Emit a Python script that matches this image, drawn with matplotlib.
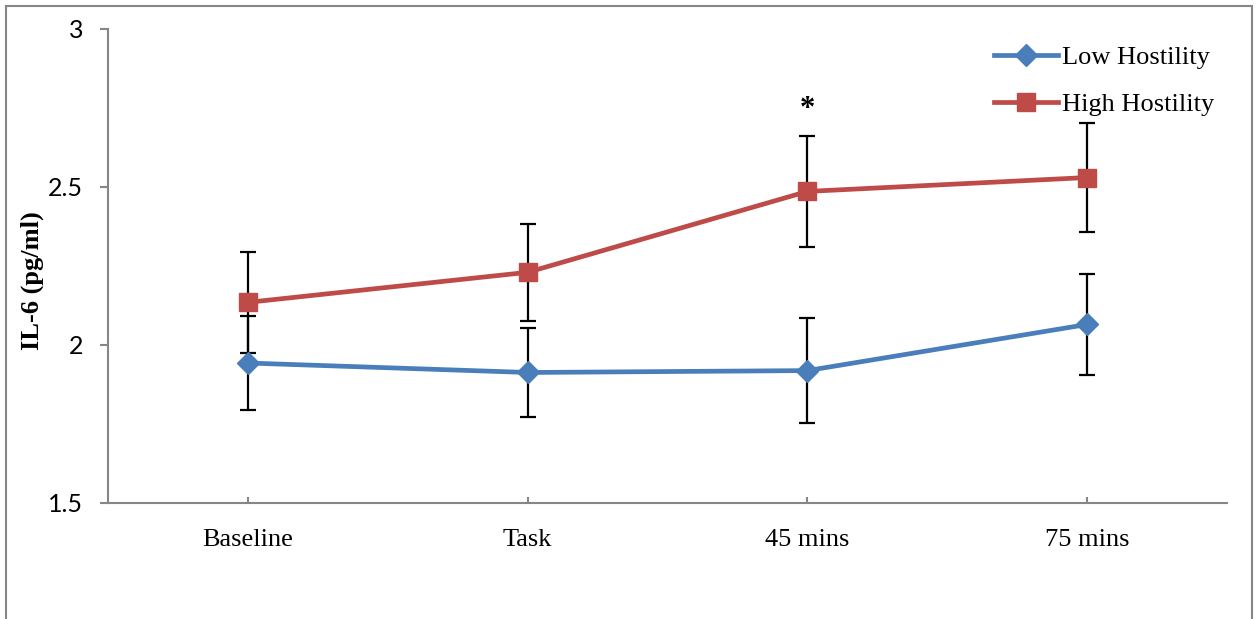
import matplotlib
matplotlib.use("Agg")
import matplotlib.pyplot as plt
from matplotlib.patches import Rectangle

# values
categories = ["Baseline", "Task", "45 mins", "75 mins"]
low_mean = [1.943, 1.913, 1.919, 2.065]
low_err = [0.148, 0.142, 0.165, 0.160]
high_mean = [2.135, 2.230, 2.486, 2.530]
high_err = [0.160, 0.153, 0.175, 0.172]
yticks = [1.5, 2.0, 2.5, 3.0]
ytick_labels = ["1.5", "2", "2.5", "3"]
star_index = 2

BLUE = "#4A7EBB"
RED = "#BE4B48"
AXIS = "#868686"
SERIF = ["Liberation Serif", "DejaVu Serif"]

W, H = 1260, 619
fig = plt.figure(figsize=(W / 100, H / 100), dpi=100)

# outer chart border (bottom edge falls outside the image)
fig.patches.append(Rectangle((6 / W, -0.05), (1252 - 6) / W, 1.05 - 6 / H,
                             transform=fig.transFigure, fill=False,
                             edgecolor=AXIS, linewidth=1.5))

ax = fig.add_axes([108 / W, 1 - 503 / H, (1227 - 108) / W, (503 - 29) / H])
x = list(range(len(categories)))

for mean, err in ((low_mean, low_err), (high_mean, high_err)):
    ax.errorbar(x, mean, yerr=err, fmt="none", ecolor="black",
                elinewidth=1.6, capsize=6, capthick=1.6, zorder=2)

ax.plot(x, low_mean, color=BLUE, lw=3.4, marker="D", markersize=11,
        label="Low Hostility", zorder=3)
ax.plot(x, high_mean, color=RED, lw=3.4, marker="s", markersize=13,
        label="High Hostility", zorder=4)

ax.annotate("*", xy=(star_index, high_mean[star_index] + high_err[star_index]),
            xytext=(0, 14), textcoords="offset points", ha="center",
            va="baseline", fontsize=22, fontweight="bold", family=SERIF)

ax.set_xlim(-0.5, len(categories) - 0.5)
ax.set_ylim(yticks[0], yticks[-1])
ax.set_xticks(x)
ax.set_xticklabels(categories, family=SERIF, fontsize=19)
ax.set_yticks(yticks)
ax.set_yticklabels(ytick_labels, family=["Lato", "DejaVu Sans"], fontsize=18)

for side in ("top", "right"):
    ax.spines[side].set_visible(False)
for side in ("left", "bottom"):
    ax.spines[side].set_color(AXIS)
    ax.spines[side].set_linewidth(1.5)
ax.tick_params(axis="y", direction="out", length=6, width=1.5, color=AXIS, pad=12)
ax.tick_params(axis="x", direction="in", length=4, width=1.5, color=AXIS, pad=19)

ax.set_ylabel("IL-6 (pg/ml)", family=SERIF, fontsize=19, fontweight="bold")
ax.yaxis.set_label_coords(-0.057, 0.47)

ax.legend(loc="upper right", bbox_to_anchor=(1.0, 0.993), frameon=False,
          prop={"family": SERIF, "size": 19}, handlelength=2.4,
          handletextpad=0.15, labelspacing=0.9, borderaxespad=0.1)

fig.savefig("out.png", dpi=100)
